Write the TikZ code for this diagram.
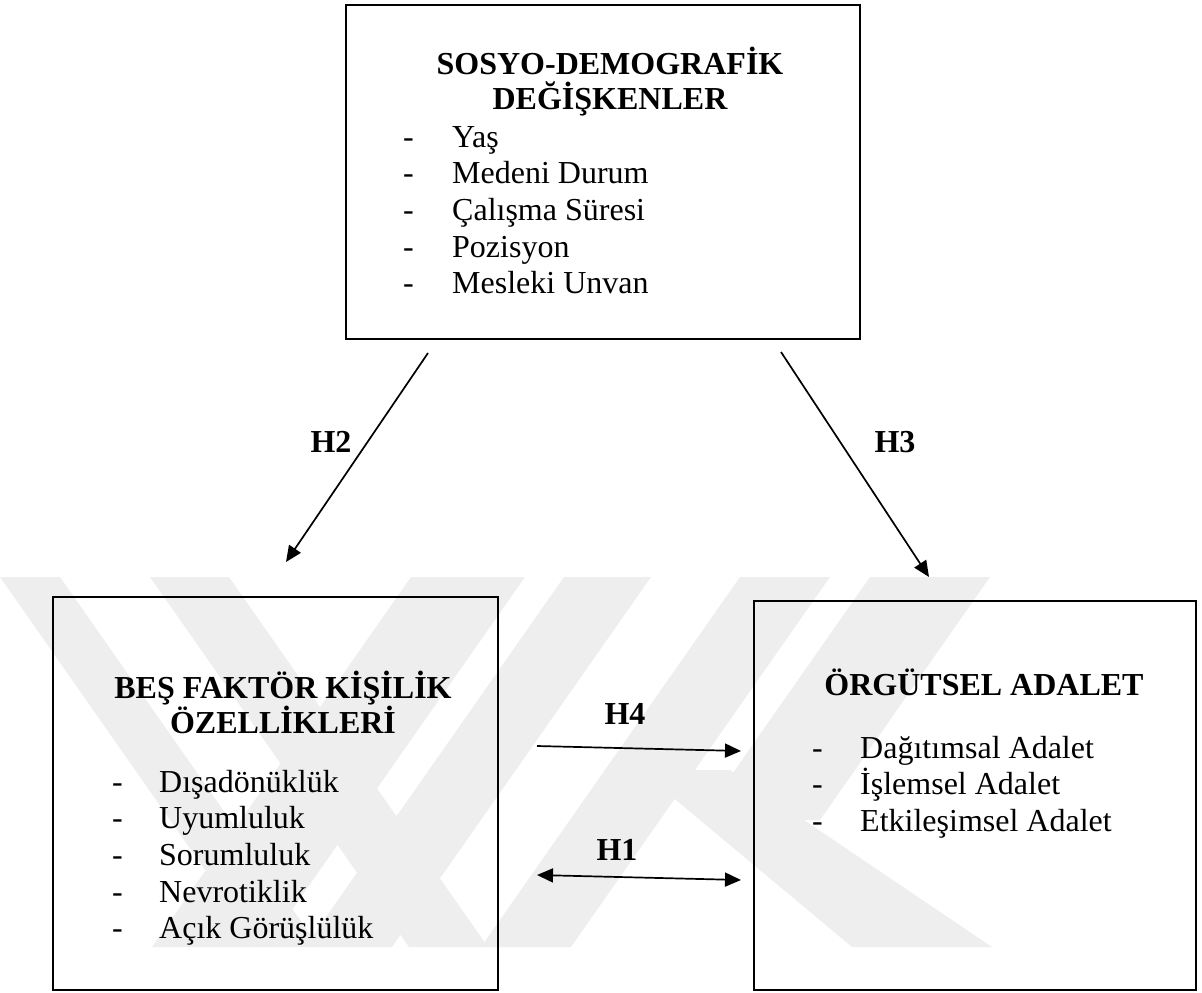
\documentclass[tikz,border=0pt]{standalone}
\usepackage{fontspec}
\setmainfont{Liberation Serif}
\usetikzlibrary{arrows.meta}
\definecolor{wm}{RGB}{238,238,238}
\tikzset{
  boxst/.style={draw=black,line width=1.9pt,rectangle,inner sep=0pt},
  head/.style={inner sep=0pt,font=\fontsize{32}{36}\selectfont\bfseries,anchor=base},
  item/.style={inner sep=0pt,font=\fontsize{32}{36}\selectfont,anchor=base west},
  lab/.style={inner sep=0pt,font=\fontsize{32}{36}\selectfont\bfseries,anchor=base},
  arr/.style={line width=1.7pt,-{Triangle[length=16pt,width=14pt]}},
  darr/.style={line width=1.7pt,{Triangle[length=16pt,width=14pt]}-{Triangle[length=16pt,width=14pt]}},
  wmark/.style={fill=wm,draw=none}
}
\begin{document}
\begin{tikzpicture}[x=1pt,y=-1pt]
\useasboundingbox (0,0) rectangle (1202,993);
% watermark
\fill[wmark] (0,577) -- (60,577) -- (319,947) -- (259,947) -- cycle;
\fill[wmark] (150,577) -- (229,577) -- (488,947) -- (409,947) -- cycle;
\fill[wmark] (411,577) -- (525,577) -- (266,947) -- (152,947) -- cycle;
\fill[wmark] (564,577) -- (651,577) -- (392,947) -- (305,947) -- cycle;
\fill[wmark] (740,577) -- (830,577) -- (571,947) -- (481,947) -- cycle;
\fill[wmark] (870,577) -- (990,577) -- (820,820) -- (700,820) -- cycle;
\fill[wmark] (640,770) -- (730,770) -- (992,947) -- (852,947) -- cycle;
% boxes
\node[boxst,minimum width=514pt,minimum height=334pt] (demo) at (603,172) {};
\node[boxst,minimum width=445pt,minimum height=393pt] (bes) at (275.5,793.5) {};
\node[boxst,minimum width=442pt,minimum height=389pt] (org) at (975,795.5) {};
% top box text
\node[head] (d1) at (610,74) {SOSYO-DEMOGRAFİK};
\node[head] (d2) at (610,109) {DEĞİŞKENLER};
\foreach \t/\y [count=\i] in {Yaş/147,Medeni Durum/183,Çalışma Süresi/220,Pozisyon/257,Mesleki Unvan/293}{
  \node[item] (dm\i) at (403,\y) {-};
  \node[item] (dt\i) at (452,\y) {\t};
}
% left box text
\node[head] (b1) at (283,698) {BEŞ FAKTÖR KİŞİLİK};
\node[head] (b2) at (283,733) {ÖZELLİKLERİ};
\foreach \t/\y [count=\i] in {Dışadönüklük/792,Uyumluluk/828,Sorumluluk/865,Nevrotiklik/902,Açık Görüşlülük/938}{
  \node[item] (bm\i) at (112,\y) {-};
  \node[item] (bt\i) at (159,\y) {\t};
}
% right box text
\node[head] (o1) at (984,695) {ÖRGÜTSEL ADALET};
\foreach \t/\y [count=\i] in {Dağıtımsal Adalet/758,İşlemsel Adalet/794,Etkileşimsel Adalet/831}{
  \node[item] (om\i) at (812,\y) {-};
  \node[item] (ot\i) at (860,\y) {\t};
}
% connectors
\coordinate (h2s) at (428,353);
\coordinate (h2e) at (286,562);
\coordinate (h3s) at (781,352);
\coordinate (h3e) at (929,577);
\coordinate (h4s) at (537,746);
\coordinate (h4e) at (741,751);
\coordinate (h1s) at (537,875);
\coordinate (h1e) at (741,880);
\draw[arr] (h2s) -- (h2e);
\draw[arr] (h3s) -- (h3e);
\draw[arr] (h4s) -- (h4e);
\draw[darr] (h1s) -- (h1e);
\node[lab] (lh2) at (331,452) {H2};
\node[lab] (lh3) at (895,452) {H3};
\node[lab] (lh4) at (625,724) {H4};
\node[lab] (lh1) at (617,860) {H1};
\end{tikzpicture}
\end{document}
